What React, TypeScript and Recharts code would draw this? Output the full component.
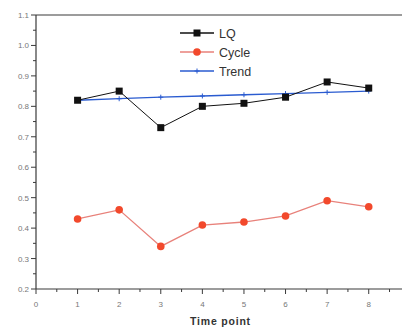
import React from 'react';
import { LineChart, Line, XAxis, YAxis, ReferenceLine } from 'recharts';

const timePoints = [1, 2, 3, 4, 5, 6, 7, 8];
const lqValues = [0.82, 0.85, 0.73, 0.8, 0.81, 0.83, 0.88, 0.86];
const cycleValues = [0.43, 0.46, 0.34, 0.41, 0.42, 0.44, 0.49, 0.47];
const trendValues = [0.82, 0.825, 0.83, 0.834, 0.838, 0.842, 0.846, 0.85];

const xTicks = [0, 0.5, 1, 1.5, 2, 2.5, 3, 3.5, 4, 4.5, 5, 5.5, 6, 6.5, 7, 7.5, 8, 8.5];
const yTicks = [0.2, 0.25, 0.3, 0.35, 0.4, 0.45, 0.5, 0.55, 0.6, 0.65, 0.7, 0.75, 0.8, 0.85, 0.9, 0.95, 1.0, 1.05, 1.1];

const data = timePoints.map((t, i) => ({
  t,
  LQ: lqValues[i],
  Cycle: cycleValues[i],
  Trend: trendValues[i],
}));

const FONT = '"Liberation Sans", Arial, sans-serif';
const AXIS = '#3a3a3a';
const LQ_COLOR = '#111111';
const CYCLE_COLOR = '#f2492c';
const CYCLE_LINE = '#e8817a';
const TREND_COLOR = '#2a5bd0';
const TICK_OFFSET = 8; // recharts default tickSize + tickMargin

const isMajor = (v: number) => Math.round(v * 100) % 10 === 0;

// custom ticks: major ticks get a label, half steps only a short mark
const XTick = (props: any) => {
  const { x, payload } = props;
  const y = props.y - TICK_OFFSET;
  const major = Number.isInteger(payload.value);
  return (
    <g>
      <line x1={x} x2={x} y1={y} y2={y + (major ? 5 : 3)} stroke={AXIS} strokeWidth={1} />
      {major && (
        <text x={x} y={y + 18} textAnchor="middle" fontSize={8} fill="#777" fontFamily={FONT}>
          {payload.value}
        </text>
      )}
    </g>
  );
};

const YTick = (props: any) => {
  const { y, payload } = props;
  const x = props.x + TICK_OFFSET;
  const major = isMajor(payload.value);
  return (
    <g>
      <line x1={x} x2={x - (major ? 5 : 3)} y1={y} y2={y} stroke={AXIS} strokeWidth={1} />
      {major && (
        <text x={x - 7} y={y + 3} textAnchor="end" fontSize={8} fill="#777" fontFamily={FONT}>
          {payload.value.toFixed(1)}
        </text>
      )}
    </g>
  );
};

const SquareDot = (props: any) => {
  const { cx, cy } = props;
  return <rect x={cx - 3.5} y={cy - 3.5} width={7} height={7} fill={LQ_COLOR} />;
};

const CircleDot = (props: any) => {
  const { cx, cy } = props;
  return <circle cx={cx} cy={cy} r={3.8} fill={CYCLE_COLOR} />;
};

const PlusDot = (props: any) => {
  const { cx, cy } = props;
  return (
    <g stroke={TREND_COLOR} strokeWidth={1}>
      <line x1={cx - 2.5} x2={cx + 2.5} y1={cy} y2={cy} />
      <line x1={cx} x2={cx} y1={cy - 2.5} y2={cy + 2.5} />
    </g>
  );
};

const LegendBox = () => {
  const rows = [
    { name: 'LQ', color: LQ_COLOR, line: LQ_COLOR, marker: 'square' },
    { name: 'Cycle', color: CYCLE_COLOR, line: CYCLE_LINE, marker: 'circle' },
    { name: 'Trend', color: TREND_COLOR, line: TREND_COLOR, marker: 'plus' },
  ];
  return (
    <svg width={100} height={60}>
      {rows.map((r, i) => {
        const cy = 8 + i * 19;
        return (
          <g key={r.name}>
            <line x1={2} x2={36} y1={cy} y2={cy} stroke={r.line} strokeWidth={1.5} />
            {r.marker === 'square' && <rect x={15.5} y={cy - 3.5} width={7} height={7} fill={r.color} />}
            {r.marker === 'circle' && <circle cx={19} cy={cy} r={3.8} fill={r.color} />}
            {r.marker === 'plus' && (
              <g stroke={r.color}>
                <line x1={16.5} x2={21.5} y1={cy} y2={cy} />
                <line x1={19} x2={19} y1={cy - 2.5} y2={cy + 2.5} />
              </g>
            )}
            <text x={41} y={cy + 4.5} fontSize={12.5} fill="#333" fontFamily={FONT}>
              {r.name}
            </text>
          </g>
        );
      })}
    </svg>
  );
};

export default function App() {
  return (
    <div style={{ position: 'fixed', top: 0, left: 0, width: 402, height: 331, background: '#fff', overflow: 'hidden' }}>
      <LineChart width={402} height={331} data={data} margin={{ top: 15, right: 0, bottom: 0, left: 0 }}>
        <XAxis
          dataKey="t"
          type="number"
          domain={[0, 8.8]}
          ticks={xTicks}
          interval={0}
          stroke={AXIS}
          strokeWidth={1.2}
          tickLine={false}
          tick={<XTick />}
          height={42}
        />
        <YAxis
          type="number"
          domain={[0.2, 1.1]}
          ticks={yTicks}
          interval={0}
          width={36}
          stroke={AXIS}
          strokeWidth={1.2}
          tickLine={false}
          tick={<YTick />}
        />
        <ReferenceLine y={1.1} stroke={AXIS} strokeWidth={1.2} />
        <Line dataKey="Trend" stroke={TREND_COLOR} strokeWidth={1.3} dot={<PlusDot />} isAnimationActive={false} />
        <Line dataKey="Cycle" stroke={CYCLE_LINE} strokeWidth={1.3} dot={<CircleDot />} isAnimationActive={false} />
        <Line dataKey="LQ" stroke={LQ_COLOR} strokeWidth={1} dot={<SquareDot />} isAnimationActive={false} />
      </LineChart>
      <div style={{ position: 'absolute', left: 178, top: 25 }}>
        <LegendBox />
      </div>
      <div
        style={{
          position: 'absolute',
          left: 190,
          top: 315,
          lineHeight: '12px',
          fontFamily: FONT,
          fontSize: 10.5,
          fontWeight: 'bold',
          color: '#333',
          letterSpacing: 0.8,
          whiteSpace: 'nowrap',
        }}
      >
        Time point
      </div>
    </div>
  );
}
